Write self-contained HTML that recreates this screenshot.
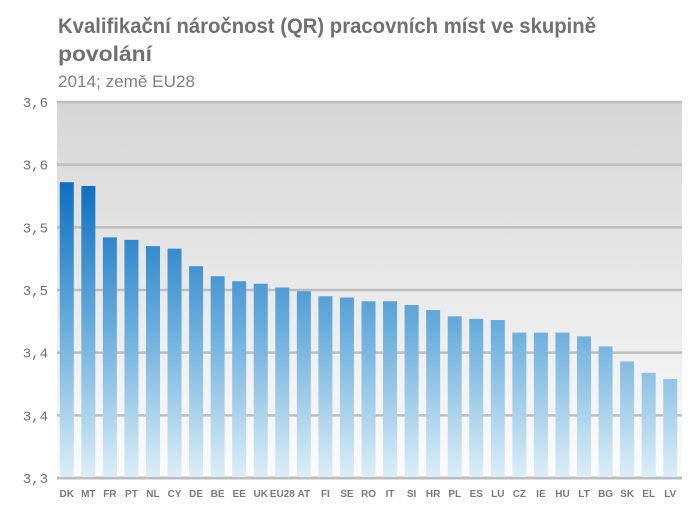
<!DOCTYPE html>
<html><head><meta charset="utf-8"><style>
body{margin:0;background:#fff}
svg{display:block;font-family:"Liberation Sans","DejaVu Sans",sans-serif}
</style></head><body>
<svg id="chart" width="696" height="519" viewBox="0 0 696 519">
<defs>
<linearGradient id="bg" x1="0" y1="0" x2="0" y2="1"><stop offset="0" stop-color="#d6d6d6"/><stop offset="1" stop-color="#fbfbfb"/></linearGradient>
<linearGradient id="bar" gradientUnits="userSpaceOnUse" x1="0" y1="180" x2="0" y2="478"><stop offset="0" stop-color="#0a6fc0"/><stop offset="0.5" stop-color="#6aaddc"/><stop offset="1" stop-color="#dceef7"/></linearGradient>
</defs>
<text x="58" y="33" font-size="21" font-weight="bold" fill="#707070" textLength="538" lengthAdjust="spacingAndGlyphs">Kvalifikační náročnost (QR) pracovních míst ve skupině</text>
<text x="58" y="61" font-size="21" font-weight="bold" fill="#707070" textLength="94" lengthAdjust="spacingAndGlyphs">povolání</text>
<text x="58" y="87" font-size="17" fill="#808080" textLength="137" lengthAdjust="spacingAndGlyphs">2014; země EU28</text>
<rect x="57" y="102" width="625" height="376" fill="url(#bg)"/>
<g id="grid"></g><g id="bars"></g><g id="xl"></g><g id="yl"></g>
</svg>
<script>
const categories=["DK","MT","FR","PT","NL","CY","DE","BE","EE","UK","EU28","AT","FI","SE","RO","IT","SI","HR","PL","ES","LU","CZ","IE","HU","LT","BG","SK","EL","LV"];
const values=[3.536,3.533,3.492,3.490,3.485,3.483,3.469,3.461,3.457,3.455,3.452,3.449,3.445,3.444,3.441,3.441,3.438,3.434,3.429,3.427,3.426,3.416,3.416,3.416,3.413,3.405,3.393,3.384,3.379];
const tickValues=[3.30,3.35,3.40,3.45,3.50,3.55,3.60];
const tickLabels=["3,3","3,4","3,4","3,5","3,5","3,6","3,6"];
const NS="http://www.w3.org/2000/svg";
const x0=57,x1=682,yTop=102,yBot=478,vMin=3.30,vMax=3.60;
const y=v=>yBot-(v-vMin)/(vMax-vMin)*(yBot-yTop);
const step=(x1-x0)/categories.length;
const xc=i=>x0+step*(i+0.5)-1;
function mk(t,a,p){const e=document.createElementNS(NS,t);for(const k in a)e.setAttribute(k,a[k]);p.appendChild(e);return e;}
const G=document.getElementById('grid'),B=document.getElementById('bars'),XL=document.getElementById('xl'),YL=document.getElementById('yl');
tickValues.forEach((v,i)=>{
const l=mk('line',{x1:x0,x2:x1,y1:y(v),y2:y(v),stroke:'#bdbdbd','stroke-width':i==0?3:2.5},G);


const t=mk('text',{x:48,y:y(v)+5,'text-anchor':'end','font-size':14,fill:'#707070','font-family':'Liberation Mono, monospace'},YL);
t.textContent=tickLabels[i];


});
categories.forEach((c,i)=>{
const r=mk('rect',{x:xc(i)-7,y:y(values[i]),width:14,height:yBot-1-y(values[i]),fill:'url(#bar)'},B);


const t=mk('text',{x:xc(i),y:497,'text-anchor':'middle','font-size':10,'font-weight':'bold',fill:'#7a7a7a'},XL);
t.textContent=c;


});
</script>
</body></html>
